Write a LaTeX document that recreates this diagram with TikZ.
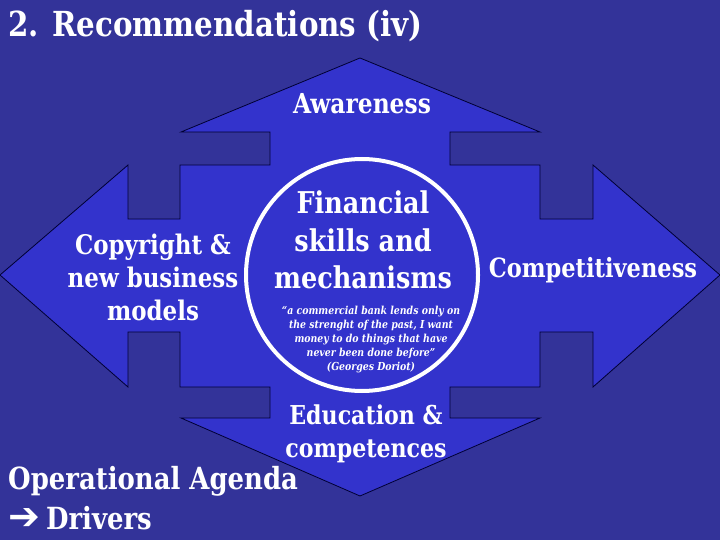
\documentclass[tikz,border=0pt]{standalone}
\usepackage{fontspec}
\setmainfont{DejaVu Serif}[FakeStretch=0.85]
\newfontfamily\arrowfont{DejaVu Sans}
\definecolor{slideblue}{RGB}{51,51,153}
\definecolor{crossblue}{RGB}{51,51,204}

\begin{document}
\begin{tikzpicture}[x=1pt,y=-1pt]

    \fill[slideblue] (0,0) rectangle (720,540);
    \useasboundingbox (0,0) rectangle (720,540);

    % four-way arrow and the ring in the middle
    \draw[fill=crossblue,draw=black!80!blue,line width=0.8pt]
        (360,58) -- (540,132) -- (450,132) -- (450,165) -- (540,165) -- (540,219)
        -- (593,219) -- (593,165) -- (720,275) -- (593,387) -- (593,332) -- (540,332)
        -- (540,387) -- (450,387) -- (450,418) -- (540,418) -- (360,496) -- (181,418)
        -- (270,418) -- (270,387) -- (180,387) -- (180,332) -- (128,332) -- (128,387)
        -- (0,275) -- (128,165) -- (128,219) -- (180,219) -- (180,165) -- (270,165)
        -- (270,132) -- (181,132) -- cycle;
    \draw[white,line width=4pt] (362,275) circle (116);

    \begin{scope}[every node/.style={text=white,align=center,inner sep=0pt}]
        \node[anchor=base west,font=\fontsize{34.5}{40}\selectfont\bfseries] (title) at (8,37) {2. Recommendations (iv)};
        \node[font=\fontsize{27.5}{33}\selectfont\bfseries] (aware) at (362,104) {Awareness};
        \node[font=\fontsize{30}{37.5}\selectfont\bfseries] (fin) at (363,240) {Financial\\ skills and\\ mechanisms};
        \node[font=\fontsize{11}{14}\selectfont\bfseries\itshape] (quote) at (371,340)
            {``a commercial bank lends only on\\ the strenght of the past, I want\\ money to do things that have\\ never been done before''\\ (Georges Doriot)};
        \node[font=\fontsize{27}{33}\selectfont\bfseries] (copy) at (153,277) {Copyright \&\\ new business\\ models};
        \node[font=\fontsize{26.5}{30}\selectfont\bfseries] (comp) at (593,270) {Competitiveness};
        \node[font=\fontsize{26}{33}\selectfont\bfseries] (edu) at (366,434) {Education \&\\ competences};
        \node[anchor=west,font=\fontsize{30.5}{36}\selectfont\bfseries] (agenda) at (8,481) {Operational Agenda};
        \node[anchor=west,font=\fontsize{30.5}{36}\selectfont\bfseries] (drivers) at (8,518) {{\arrowfont\fontsize{38}{40}\selectfont ➔}\hspace{6pt}Drivers};
    \end{scope}

\end{tikzpicture}
\end{document}
